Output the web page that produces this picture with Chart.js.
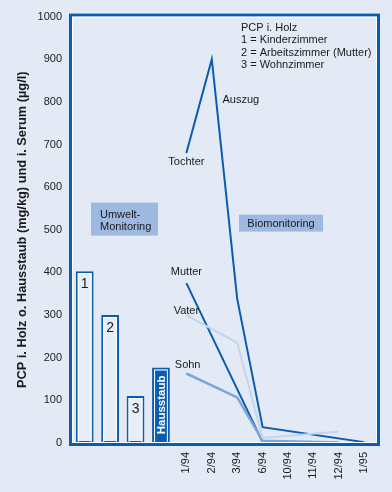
<!DOCTYPE html>
<html>
<head>
<meta charset="utf-8">
<script src="https://cdn.jsdelivr.net/npm/chart.js@4"></script>
<style>
  html, body { margin: 0; padding: 0; background: #e3eaf5; }
  #wrap { width: 392px; height: 492px; }
</style>
</head>
<body>
<div id="wrap"><canvas id="chart" width="392" height="492"></canvas></div>
<script>
// Kategorien: 4 Säulen (Umwelt-Monitoring) + 8 Termine (Biomonitoring)
const categories = ['', '', '', '', '1/94', '2/94', '3/94', '6/94', '10/94', '11/94', '12/94', '1/95'];
const barLabels = ['1', '2', '3', 'Hausstaub'];
const barValues = [403, 300, 110, 177, null, null, null, null, null, null, null, null];

// Serumwerte (µg/l)
const tochter = [null, null, null, null, 680, 900, 338, 37, null, null, null, 2];
const mutter = [null, null, null, null, 375, null, null, 2, 2, null, null, null];
const vater = [null, null, null, null, 300, null, 235, 12, null, null, 27, null];
const sohn = [null, null, null, null, 163, null, 107, 5, null, null, 1, null];

const yTicks = [0, 100, 200, 300, 400, 500, 600, 700, 800, 900, 1000];
const legendLines = ['PCP i. Holz', '1 = Kinderzimmer', '2 = Arbeitszimmer (Mutter)', '3 = Wohnzimmer'];

const DARK = '#0a5cb0';
const FONT = 'Arial, "Liberation Sans", sans-serif';

// Beschriftungen an Datenkoordinaten (Index, Wert)
const lineNotes = [
    { text: 'Tochter', i: 4, v: 660, align: 'center' },
    { text: 'Mutter', i: 4, v: 401, align: 'center' },
    { text: 'Vater', i: 4, v: 310, align: 'center' },
    { text: 'Sohn', i: 4.05, v: 182, align: 'center' },
    { text: 'Auszug', i: 5.42, v: 804, align: 'left' }
];

const decoPlugin = {
    id: 'deco',
    afterDatasetsDraw(chart) {
        const ctx = chart.ctx;
        const x = chart.scales.x, y = chart.scales.y;
        const a = chart.chartArea;

        // weisse Innenlinie der Säulen + Nummern
        const bars = chart.getDatasetMeta(0).data;
        bars.forEach((bar, i) => {
            if (barValues[i] == null) return;
            const p = bar.getProps(['x', 'y', 'base', 'width'], true);
            const l = p.x - p.width / 2;
            ctx.save();
            ctx.strokeStyle = '#ffffff';
            ctx.lineWidth = 1;
            ctx.strokeRect(l + 2.5, p.y + 2.5, p.width - 5, p.base - p.y - 3);
            if (i < 3) {
                ctx.fillStyle = '#1a1a1a';
                ctx.font = '14px ' + FONT;
                ctx.textAlign = 'center';
                ctx.textBaseline = 'middle';
                ctx.fillText(barLabels[i], p.x, p.y + 13);
            } else {
                ctx.fillStyle = '#ffffff';
                ctx.font = 'bold 11.5px ' + FONT;
                ctx.translate(p.x + 1, p.y + 8);
                ctx.rotate(-Math.PI / 2);
                ctx.textAlign = 'right';
                ctx.textBaseline = 'middle';
                ctx.fillText(barLabels[i], 0, 0);
            }
            ctx.restore();
        });

        ctx.save();
        ctx.font = '11px ' + FONT;
        ctx.fillStyle = '#1a1a1a';
        ctx.textBaseline = 'middle';
        lineNotes.forEach(n => {
            ctx.textAlign = n.align;
            ctx.fillText(n.text, x.getPixelForValue(n.i), y.getPixelForValue(n.v));
        });

        // Legende oben rechts
        ctx.textAlign = 'left';
        legendLines.forEach((t, k) => ctx.fillText(t, a.left + 169, a.top + 11 + k * 12.5));

        // Kästen
        ctx.fillStyle = '#9db8e1';
        ctx.fillRect(a.left + 19, a.top + 186, 67, 33);
        ctx.fillRect(a.left + 167, a.top + 198, 84, 17);
        ctx.fillStyle = '#1a1a1a';
        ctx.fillText('Umwelt-', a.left + 28, a.top + 198);
        ctx.fillText('Monitoring', a.left + 28, a.top + 210);
        ctx.textAlign = 'center';
        ctx.fillText('Biomonitoring', a.left + 209, a.top + 207);

        // Rahmen
        ctx.strokeStyle = DARK;
        ctx.lineWidth = 3;
        ctx.strokeRect(a.left - 1.5, a.top - 1.5, a.right - a.left + 3, a.bottom - a.top + 3);
        ctx.strokeStyle = '#ffffff';
        ctx.lineWidth = 1;
        ctx.strokeRect(a.left + 0.5, a.top + 0.5, a.right - a.left - 1, a.bottom - a.top - 1);
        ctx.restore();
    }
};

new Chart(document.getElementById('chart'), {
    data: {
        labels: categories,
        datasets: [
            {
                type: 'bar',
                data: barValues,
                backgroundColor: ['#e8eef8', '#e8eef8', '#e8eef8', DARK],
                borderColor: DARK,
                borderWidth: 2,
                borderSkipped: false,
                barPercentage: 0.7,
                categoryPercentage: 1.0,
                order: 2
            },
            { type: 'line', label: 'Vater', data: vater, borderColor: '#c3d5ee', borderWidth: 2, pointRadius: 0, spanGaps: true, tension: 0, order: 1 },
            { type: 'line', label: 'Sohn', data: sohn, borderColor: '#7ca5d8', borderWidth: 2.5, pointRadius: 0, spanGaps: true, tension: 0, order: 1 },
            { type: 'line', label: 'Mutter', data: mutter, borderColor: DARK, borderWidth: 2, pointRadius: 0, spanGaps: true, tension: 0, order: 1 },
            { type: 'line', label: 'Tochter', data: tochter, borderColor: DARK, borderWidth: 2, pointRadius: 0, spanGaps: true, tension: 0, order: 1 }
        ]
    },
    options: {
        responsive: false,
        animation: false,
        devicePixelRatio: 1,
        layout: { padding: { left: 0, top: 14, right: 15, bottom: 0 } },
        plugins: { legend: { display: false }, tooltip: { enabled: false } },
        scales: {
            x: {
                offset: true,
                grid: { display: false, drawTicks: false },
                border: { display: false },
                ticks: {
                    autoSkip: false, maxRotation: 90, minRotation: 90, padding: 9,
                    color: '#1a1a1a', font: { family: FONT, size: 11 }
                },
                afterFit(s) { s.height = 49; }
            },
            y: {
                min: 0, max: 1000,
                grid: { display: false, drawTicks: false },
                border: { display: false },
                afterBuildTicks(s) { s.ticks = yTicks.map(v => ({ value: v })); },
                ticks: {
                    padding: 10, color: '#1a1a1a', font: { family: FONT, size: 11 },
                    callback: v => String(v)
                },
                title: {
                    display: true,
                    text: 'PCP i. Holz o. Hausstaub (mg/kg) und i. Serum (µg/l)',
                    color: '#1a1a1a',
                    font: { family: FONT, size: 12.8, weight: 'bold' },
                    padding: { top: 15, bottom: 0 }
                },
                afterFit(s) { s.width = 72; }
            }
        }
    },
    plugins: [decoPlugin]
});
</script>
</body>
</html>
